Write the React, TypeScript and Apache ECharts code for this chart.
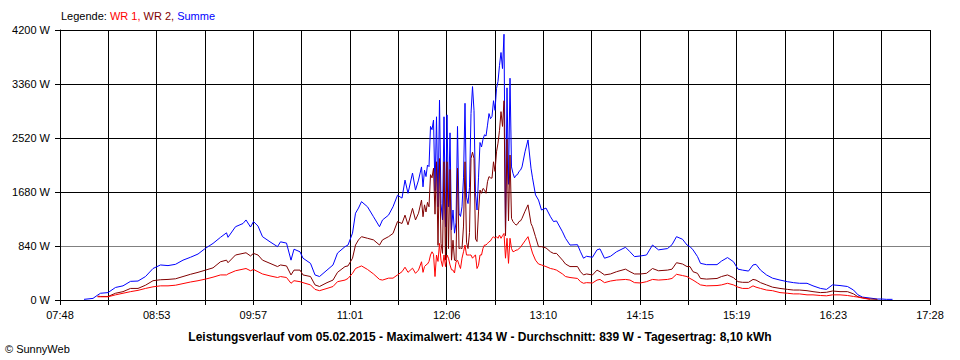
import React, { useEffect, useRef } from "react";
import * as echarts from "echarts";

const FONT = '"Liberation Sans", Arial, sans-serif';

const START_MIN = 468; // 07:48
const END_MIN = 1048; // 17:28
const X_TICK_LABELS = ["07:48", "08:53", "09:57", "11:01", "12:06", "13:10", "14:15", "15:19", "16:23", "17:28"];
const Y_MAX = 4200;
const Y_STEP = 840;

const TITLE = "Leistungsverlauf vom 05.02.2015 - Maximalwert: 4134 W - Durchschnitt: 839 W - Tagesertrag: 8,10 kWh";
const COPYRIGHT = "© SunnyWeb";

const TIMES = [
  "08:04", "08:10", "08:13", "08:15", "08:20", "08:25", "08:30", "08:35", "08:40", "08:45",
  "08:50", "08:55", "09:00", "09:05", "09:10", "09:15", "09:20", "09:25", "09:30", "09:35",
  "09:39", "09:40", "09:45", "09:50", "09:52", "09:55", "09:57", "10:00", "10:03", "10:08",
  "10:13", "10:15", "10:19", "10:22", "10:24", "10:28", "10:30", "10:35", "10:38", "10:41",
  "10:46", "10:50", "10:53", "10:58", "11:00", "11:03", "11:05", "11:07", "11:09", "11:13",
  "11:17", "11:21", "11:23", "11:27", "11:30", "11:33", "11:36", "11:38", "11:40", "11:43",
  "11:45", "11:47", "11:49", "11:50",
  "11:51", "11:52", "11:53", "11:54", "11:55", "11:56", "11:57", "11:58", "11:59", "12:00",
  "12:01", "12:02", "12:03", "12:04", "12:05", "12:06", "12:07", "12:08", "12:09", "12:10",
  "12:11", "12:12", "12:13", "12:14", "12:15", "12:16", "12:17", "12:18", "12:19", "12:20",
  "12:21", "12:22", "12:23", "12:24", "12:25", "12:26", "12:27", "12:28", "12:29", "12:30",
  "12:31", "12:32", "12:33", "12:34", "12:35", "12:36", "12:37", "12:38", "12:39", "12:40",
  "12:41", "12:42", "12:43", "12:44", "12:45", "12:46", "12:47", "12:48", "12:49", "12:50",
  "12:51", "12:52", "12:53", "12:54", "12:55", "12:56", "12:58", "13:00", "13:02", "13:03",
  "13:05", "13:07", "13:09", "13:12", "13:15", "13:17", "13:19", "13:23", "13:25", "13:28",
  "13:33", "13:35", "13:37", "13:39", "13:43", "13:46", "13:48", "13:51", "13:55", "13:59",
  "14:05", "14:08", "14:11", "14:15", "14:19", "14:23", "14:27", "14:33", "14:36", "14:39",
  "14:43", "14:46", "14:48", "14:50", "14:53", "14:55", "14:59", "15:06", "15:09", "15:13",
  "15:17", "15:20", "15:23", "15:27", "15:30", "15:32", "15:35", "15:39", "15:43", "15:48",
  "15:53", "15:57", "16:01", "16:06", "16:10", "16:15", "16:19", "16:23", "16:28", "16:33",
  "16:37", "16:40", "16:43", "16:48", "16:53", "16:56", "16:59", "17:03",
];

const SUMME = [
  10, 25, 75, 105, 115, 195, 220, 290, 295, 365,
  490, 545, 535, 555, 620, 665, 715, 805, 880, 975,
  1045, 975, 1140, 1190, 1245, 1135, 1220, 1150, 985, 905,
  830, 905, 885, 620, 790, 750, 650, 570, 390, 365,
  465, 545, 730, 830, 855, 1040, 1350, 1430, 1530, 1450,
  1295, 1140, 1245, 1320, 1450, 1630, 1585, 1865, 1660, 1975,
  1710, 1865, 2070, 1760,
  2020, 1920, 2100, 2075, 2700, 2650, 2800, 1700, 2850, 1450,
  3110, 1500, 1245, 2850, 1140, 2880, 1450, 2600, 1090, 1400,
  1040, 1200, 2700, 1350, 1300, 1450, 1900, 3060, 1600, 1500,
  1750, 2900, 3320, 2950, 1650, 1400, 1900, 2450, 2380, 2500,
  2570, 2550, 2720, 2900, 2820, 2855, 3100, 2950, 3290, 3400,
  3650, 3850, 3600, 4134, 1040, 3300, 1800, 3450, 2070, 1970,
  1900, 1940, 1950, 2000, 2020, 2070, 2305, 2490, 2050, 1900,
  1635, 1555, 1400, 1430, 1295, 1220, 1230, 1060, 960, 855,
  860, 750, 650, 680, 665, 780, 795, 650, 680, 750,
  820, 750, 675, 685, 700, 855, 780, 800, 860, 985,
  945, 855, 830, 780, 675, 570, 550, 550, 605, 660,
  595, 480, 465, 450, 545, 555, 465, 390, 340, 310,
  285, 270, 260, 260, 220, 180, 165, 235, 225, 210,
  155, 80, 45, 30, 15, 15, 10, 10,
];

const WR1 = [
  null, null, 50, 50, 50, 80, 105, 130, 150, 180,
  205, 220, 220, 230, 255, 280, 300, 325, 355, 390,
  390, 405, 455, 480, 490, 455, 475, 440, 405, 375,
  350, 365, 350, 260, 300, 285, 270, 235, 165, 145,
  180, 210, 285, 310, 335, 415, 490, 510, 530, 475,
  405, 320, 310, 340, 340, 390, 440, 510, 430, 495,
  415, 465, 595, 430,
  520, 545, 560, 600, 700, 750, 710, 365, 700, 600,
  880, 620, 520, 700, 520, 700, 650, 545, 470, 465,
  420, 590, 620, 550, 490, 650, 750, 855, 700, 700,
  700, 700, 650, 680, 700, 490, 540, 700, 700, 805,
  855, 855, 880, 905, 920, 960, 985, 960, 985, 960,
  1010, 960, 1000, 1035, 650, 960, 570, 960, 800, 750,
  760, 775, 780, 800, 820, 855, 920, 985, 810, 730,
  620, 560, 545, 520, 490, 480, 465, 405, 365, 350,
  335, 285, 260, 270, 265, 310, 320, 270, 295, 310,
  320, 310, 270, 265, 285, 320, 310, 320, 335, 400,
  380, 365, 335, 310, 265, 235, 220, 225, 235, 260,
  235, 200, 180, 180, 220, 200, 180, 155, 145, 115,
  105, 95, 95, 80, 80, 70, 65, 80, 80, 70,
  55, 45, 30, 10, null, null, null, null,
];

const WR2 = [
  null, null, 60, 55, 55, 105, 130, 180, 180, 230,
  300, 315, 320, 330, 365, 400, 430, 465, 500, 595,
  620, 580, 700, 725, 735, 685, 725, 700, 620, 570,
  520, 545, 530, 390, 465, 465, 390, 365, 235, 210,
  270, 310, 430, 520, 530, 650, 855, 935, 985, 960,
  935, 855, 935, 985, 1035, 1220, 1190, 1320, 1170, 1425,
  1245, 1350, 1555, 1295,
  1480, 1370, 1520, 1450, 1950, 1900, 2050, 1335, 2150, 850,
  2200, 880, 725, 2150, 620, 2150, 800, 2030, 620, 930,
  620, 610, 2050, 800, 810, 800, 1150, 2150, 900, 800,
  1050, 2200, 2300, 2200, 950, 910, 1370, 1710, 1660, 1735,
  1715, 1660, 1840, 1920, 1900, 1895, 2150, 2000, 2305, 2440,
  2640, 2930, 2700, 3099, 1000, 2500, 1230, 2255, 1270, 1220,
  1190, 1165, 1180, 1220, 1230, 1270, 1380, 1480, 1190, 1140,
  985, 830, 830, 810, 750, 725, 725, 620, 560, 520,
  520, 440, 390, 405, 390, 465, 440, 390, 405, 440,
  480, 440, 405, 405, 415, 490, 455, 465, 480, 580,
  560, 520, 520, 440, 415, 335, 325, 335, 365, 390,
  347, 285, 275, 275, 320, 310, 270, 235, 200, 180,
  165, 155, 155, 145, 130, 115, 120, 140, 130, 130,
  95, 50, 35, 15, 10, null, null, null,
];

function toMin(t: string): number {
  const [h, m] = t.split(":").map(Number);
  return h * 60 + m;
}

export default function App() {
  const ref = useRef<HTMLDivElement>(null);

  useEffect(() => {
    if (!ref.current) return;
    const chart = echarts.init(ref.current, null, { renderer: "svg" });
    const span = END_MIN - START_MIN;
    const step = span / 18;
    const mk = (vals: (number | null)[]) =>
      TIMES.map((t, i) => [toMin(t) - START_MIN, vals[i]]);

    const yColors: string[] = [];
    for (let v = 0; v <= Y_MAX; v += Y_STEP) yColors.push(v === Y_STEP ? "#808080" : "#000000");

    chart.setOption({
      animation: false,
      backgroundColor: "#ffffff",
      textStyle: { fontFamily: FONT },
      grid: { left: 60, right: 30, top: 30, bottom: 60, containLabel: false },
      xAxis: {
        type: "value",
        min: 0,
        max: span,
        interval: step,
        axisLine: { show: true, lineStyle: { color: "#000", width: 1 } },
        axisTick: { show: true, length: 5, lineStyle: { color: "#000", width: 1 } },
        axisLabel: {
          color: "#000",
          fontSize: 11,
          fontFamily: FONT,
          margin: 9,
          showMinLabel: true,
          showMaxLabel: true,
          formatter: (v: number) => {
            const k = Math.round(v / step);
            return k % 2 === 0 ? X_TICK_LABELS[k / 2] ?? "" : "";
          },
        },
        splitLine: { show: true, lineStyle: { color: "#000", width: 1 } },
      },
      yAxis: {
        type: "value",
        min: 0,
        max: Y_MAX,
        interval: Y_STEP,
        axisLine: { show: true, lineStyle: { color: "#000", width: 1 } },
        axisTick: { show: true, length: 5, lineStyle: { color: "#000", width: 1 } },
        axisLabel: {
          color: "#000",
          fontSize: 11,
          fontFamily: FONT,
          margin: 10,
          formatter: (v: number) => `${v} W`,
        },
        splitLine: { show: true, lineStyle: { color: yColors, width: 1 } },
      },
      series: [
        {
          name: "Summe",
          type: "line",
          data: mk(SUMME),
          showSymbol: false,
          symbol: "none",
          connectNulls: false,
          lineStyle: { color: "#0000ff", width: 1 },
          itemStyle: { color: "#0000ff" },
          emphasis: { disabled: true },
          z: 2,
        },
        {
          name: "WR 2",
          type: "line",
          data: mk(WR2),
          showSymbol: false,
          symbol: "none",
          connectNulls: false,
          lineStyle: { color: "#800000", width: 1 },
          itemStyle: { color: "#800000" },
          emphasis: { disabled: true },
          z: 3,
        },
        {
          name: "WR 1",
          type: "line",
          data: mk(WR1),
          showSymbol: false,
          symbol: "none",
          connectNulls: false,
          lineStyle: { color: "#ff0000", width: 1 },
          itemStyle: { color: "#ff0000" },
          emphasis: { disabled: true },
          z: 4,
        },
      ],
      graphic: [
        {
          type: "text",
          left: 61,
          top: 10,
          style: {
            text: "{k|Legende: }{a|WR 1, }{b|WR 2, }{c|Summe}",
            fontFamily: FONT,
            fontSize: 11,
            rich: {
              k: { fill: "#000", fontSize: 11, fontFamily: FONT },
              a: { fill: "#ff0000", fontSize: 11, fontFamily: FONT },
              b: { fill: "#800000", fontSize: 11, fontFamily: FONT },
              c: { fill: "#0000ff", fontSize: 11, fontFamily: FONT },
            },
          },
        },
        {
          type: "text",
          x: 480,
          y: 337,
          style: {
            text: TITLE,
            fill: "#000",
            fontFamily: FONT,
            fontSize: 12,
            fontWeight: "bold",
            textAlign: "center",
            textVerticalAlign: "middle",
          },
        },
        {
          type: "text",
          x: 5,
          y: 349,
          style: {
            text: COPYRIGHT,
            fill: "#000",
            fontFamily: FONT,
            fontSize: 11,
            textAlign: "left",
            textVerticalAlign: "middle",
          },
        },
      ],
    });

    return () => chart.dispose();
  }, []);

  return (
    <div
      ref={ref}
      style={{ position: "absolute", left: 0, top: 0, width: 960, height: 360, background: "#fff" }}
    />
  );
}
